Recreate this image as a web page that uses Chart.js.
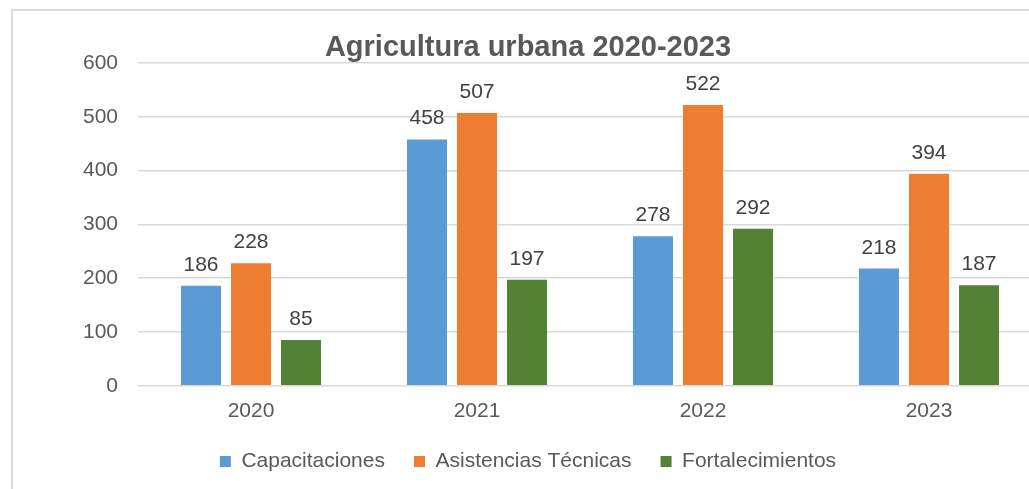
<!DOCTYPE html>
<html>
<head>
<meta charset="utf-8">
<script src="https://cdn.jsdelivr.net/npm/chart.js@4/dist/chart.umd.min.js"></script>
<style>
  html, body { margin: 0; padding: 0; background: #fff; overflow: hidden; width: 1029px; height: 489px; }
  #marco { position: absolute; left: 11px; top: 9px; width: 1100px; height: 600px; border: 2px solid #d9d9d9; }
  #contenedor { position: absolute; left: 0; top: 0; width: 1056px; height: 489px; }
</style>
</head>
<body>
<div id="marco"></div>
<div id="contenedor"><canvas id="chartAgricultura" width="1056" height="489"></canvas></div>
<script>
// datos
const anios = ["2020", "2021", "2022", "2023"];
const capacitaciones = [186, 458, 278, 218];
const asistenciasTecnicas = [228, 507, 522, 394];
const fortalecimientos = [85, 197, 292, 187];
const ticksY = [0, 100, 200, 300, 400, 500, 600];

const colores = ["#5B9BD5", "#ED7D31", "#548235"];
const fuente = "'Liberation Sans', Arial, sans-serif";

// etiquetas de valor encima de cada barra
const etiquetasValor = {
    id: "etiquetasValor",
    afterDatasetsDraw(chart) {
        const ctx = chart.ctx;
        ctx.save();
        ctx.font = "21px " + fuente;
        ctx.fillStyle = "#404040";
        ctx.textAlign = "center";
        ctx.textBaseline = "alphabetic";
        chart.data.datasets.forEach((ds, i) => {
            const meta = chart.getDatasetMeta(i);
            meta.data.forEach((barra, j) => {
                ctx.fillText(ds.data[j], barra.x, barra.y - 15);
            });
        });
        ctx.restore();
    }
};

const ctx = document.getElementById("chartAgricultura");

new Chart(ctx, {
    type: "bar",
    data: {
        labels: anios,
        datasets: [
            { label: "Capacitaciones", data: capacitaciones, backgroundColor: colores[0] },
            { label: "Asistencias Técnicas", data: asistenciasTecnicas, backgroundColor: colores[1] },
            { label: "Fortalecimientos", data: fortalecimientos, backgroundColor: colores[2] }
        ]
    },
    options: {
        responsive: false,
        animation: false,
        categoryPercentage: 0.664,
        barPercentage: 0.8,
        layout: {
            padding: { left: 14, right: 14, top: 0, bottom: 7 }
        },
        plugins: {
            title: {
                display: true,
                text: "Agricultura urbana 2020-2023",
                color: "#595959",
                font: { family: fuente, size: 29, weight: "bold", lineHeight: 1 },
                padding: { top: 33, bottom: 1 }
            },
            legend: {
                position: "bottom",
                labels: {
                    color: "#595959",
                    font: { family: fuente, size: 21 },
                    boxWidth: 11,
                    boxHeight: 11,
                    padding: 29
                }
            },
            tooltip: { enabled: false }
        },
        scales: {
            x: {
                afterFit(scale) {
                    scale.height = scale.height - 7;
                },
                grid: { display: false },
                border: { display: false },
                ticks: {
                    color: "#595959",
                    font: { family: fuente, size: 21 },
                    padding: 5
                }
            },
            y: {
                min: 0,
                max: 600,
                afterBuildTicks(scale) {
                    scale.ticks = ticksY.map(v => ({ value: v }));
                },
                afterFit(scale) {
                    scale.width = 124;
                },
                grid: { color: "#d9d9d9", lineWidth: 1.5, drawTicks: false },
                border: { display: false },
                ticks: {
                    color: "#595959",
                    font: { family: fuente, size: 21 },
                    padding: 20
                }
            }
        }
    },
    plugins: [etiquetasValor]
});
</script>
</body>
</html>
